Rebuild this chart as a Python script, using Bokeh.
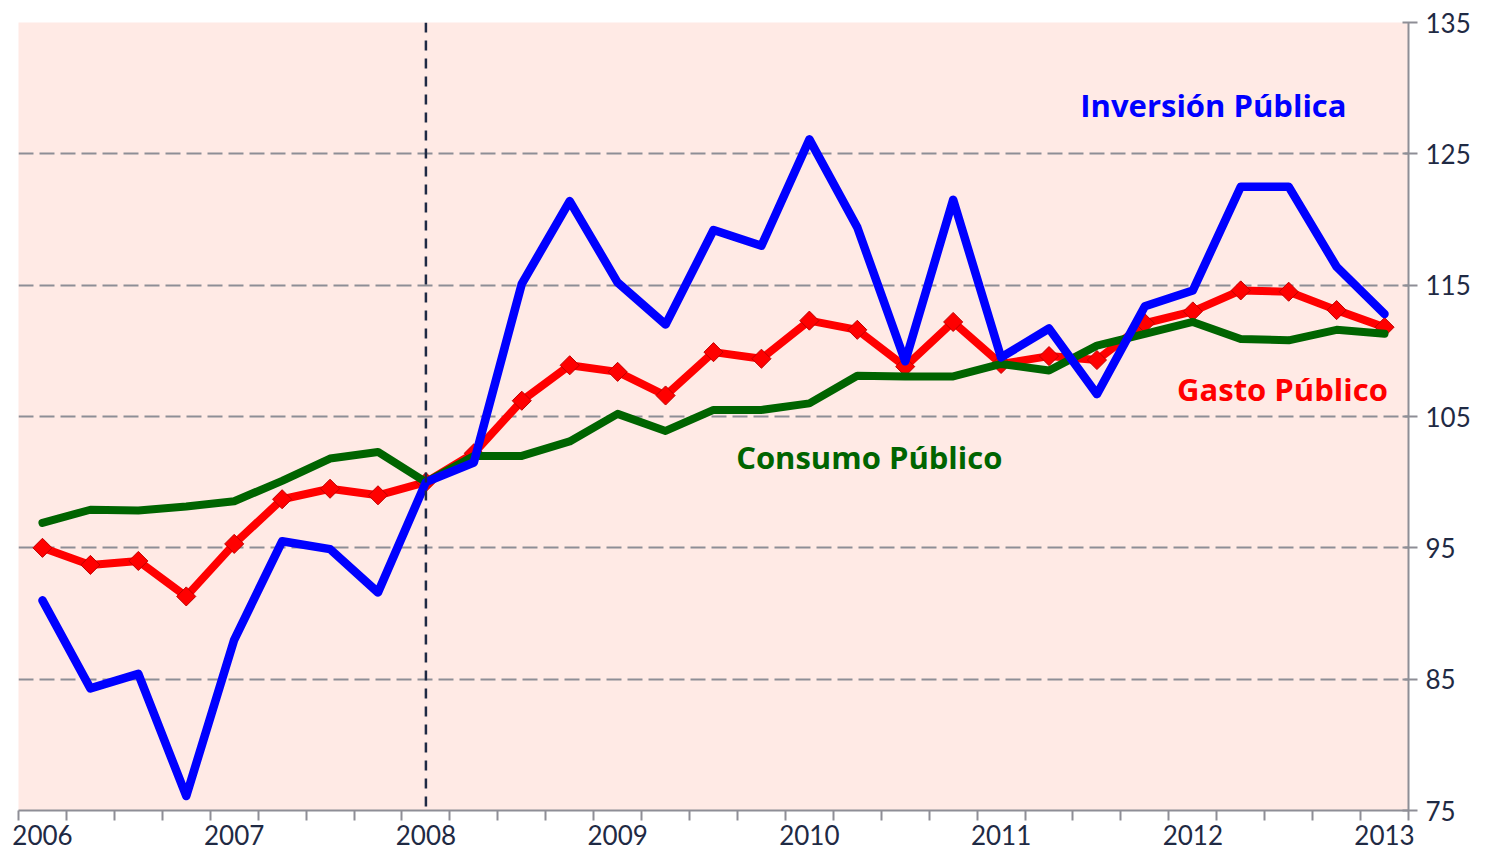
from bokeh.plotting import figure
from bokeh.models import FixedTicker, Span, Label, Range1d
from bokeh.embed import file_html
from bokeh.resources import INLINE
import math

# ---- data (quarterly index, 2008T1 = 100) ----
anios = ["2006", "2007", "2008", "2009", "2010", "2011", "2012", "2013"]
inversion = [91.0, 84.3, 85.4, 76.1, 88.0, 95.5, 94.9, 91.6, 100.0, 101.5,
             115.1, 121.4, 115.2, 112.0, 119.2, 118.0, 126.1, 119.4, 109.2,
             121.5, 109.5, 111.7, 106.7, 113.4, 114.6, 122.5, 122.5, 116.4, 112.8]
gasto = [95.0, 93.7, 94.0, 91.3, 95.3, 98.7, 99.5, 99.0, 100.0, 102.2,
         106.2, 108.9, 108.4, 106.6, 109.9, 109.4, 112.3, 111.6, 108.8,
         112.2, 109.0, 109.6, 109.3, 112.1, 113.0, 114.6, 114.5, 113.1, 111.8]
consumo = [96.9, 97.9, 97.85, 98.15, 98.55, 100.1, 101.8, 102.3, 100.0, 102.0,
           102.0, 103.1, 105.2, 103.9, 105.5, 105.5, 106.0, 108.1, 108.05,
           108.05, 109.0, 108.5, 110.4, 111.3, 112.2, 110.9, 110.8, 111.6, 111.3]
y_ticks = [75, 85, 95, 105, 115, 125, 135]

x = list(range(len(inversion)))
n = len(x)

FONT = "Lato"
TXT = "#1F2A44"
GRAY = "#8E8E96"

p = figure(width=1479, height=849, output_backend="svg", toolbar_location=None,
           x_range=Range1d(-0.5, n - 0.5), y_range=Range1d(75, 135),
           y_axis_location="right",
           min_border_left=18, min_border_top=22, min_border_right=71,
           min_border_bottom=39)
p.background_fill_color = "#FFEAE5"
p.border_fill_color = "white"
p.outline_line_color = None

# x axis (quarters, year labels centred on Q1)
xt = FixedTicker(ticks=[4 * i for i in range(len(anios))],
                 minor_ticks=[i - 0.5 for i in range(n + 1)])
p.xaxis.ticker = xt
p.xaxis.major_label_overrides = {4 * i: a for i, a in enumerate(anios)}
p.xaxis.major_tick_out = 0
p.xaxis.major_tick_in = 0
p.xaxis.minor_tick_out = 10
p.xaxis.minor_tick_in = 0
p.xaxis.minor_tick_line_color = GRAY
p.xaxis.minor_tick_line_width = 2
p.xaxis.axis_line_color = GRAY
p.xaxis.axis_line_width = 2
p.xaxis.major_label_standoff = 4
p.xaxis.major_label_text_font = FONT
p.xaxis.major_label_text_font_size = "26px"
p.xaxis.major_label_text_color = TXT
p.xgrid.grid_line_color = None

# y axis
p.yaxis.ticker = FixedTicker(ticks=y_ticks)
p.yaxis.major_tick_in = 6
p.yaxis.major_tick_out = 9
p.yaxis.minor_tick_out = 0
p.yaxis.minor_tick_in = 0
p.yaxis.major_tick_line_color = GRAY
p.yaxis.major_tick_line_width = 2
p.yaxis.axis_line_color = GRAY
p.yaxis.axis_line_width = 2
p.yaxis.major_label_standoff = 8
p.yaxis.major_label_text_font = FONT
p.yaxis.major_label_text_font_size = "26px"
p.yaxis.major_label_text_color = TXT
p.ygrid.ticker = FixedTicker(ticks=y_ticks)
p.ygrid.grid_line_color = GRAY
p.ygrid.grid_line_width = 2
p.ygrid.grid_line_dash = "15 6"

# vertical marker at 2008
p.add_layout(Span(location=8, dimension="height", line_color=TXT,
                  line_width=2.5, line_dash="10 8"))

# series
p.line(x, gasto, line_color="#FF0000", line_width=8, line_join="round")
p.scatter(x, gasto, marker="square", angle=math.pi / 4, size=13.5,
          fill_color="#FF0000", line_color="#C00000", line_width=1)
p.line(x, consumo, line_color="#006400", line_width=8, line_join="round",
       line_cap="round")
p.line(x, inversion, line_color="#0000FF", line_width=8.5, line_join="round",
       line_cap="round")

# labels
for txt, lx, ly, col in [("Inversión Pública", 24.43, 128.7, "#0000FF"),
                         ("Gasto Público", 25.87, 107.06, "#FF0000"),
                         ("Consumo Público", 17.25, 101.88, "#006400")]:
    p.add_layout(Label(x=lx, y=ly, text=txt, text_color=col,
                       text_font="Open Sans", text_font_style="bold",
                       text_font_size="31px", text_align="center",
                       text_baseline="middle"))

open("out.html", "w").write(file_html(p, INLINE))
